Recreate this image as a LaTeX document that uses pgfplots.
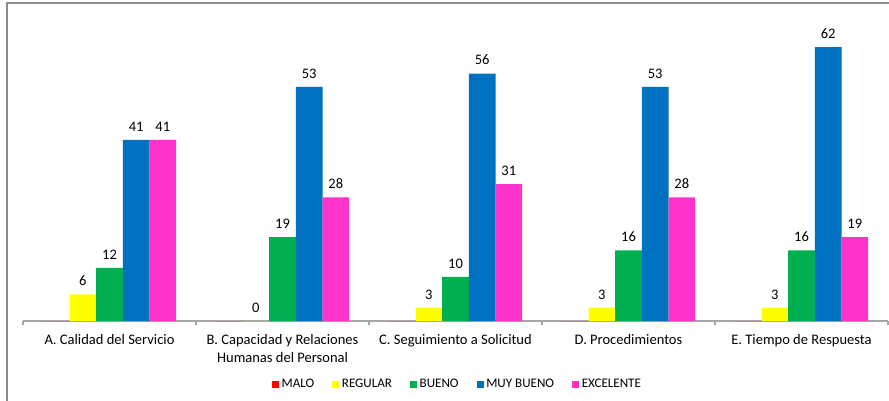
\documentclass[border=0pt]{standalone}
\usepackage{pgfplots}
\pgfplotsset{compat=1.18}
\usepackage{fontspec}
\setmainfont{Carlito}
\definecolor{cMalo}{HTML}{FF0000}
\definecolor{cReg}{HTML}{FFFF00}
\definecolor{cBue}{HTML}{00B050}
\definecolor{cMuy}{HTML}{0070C0}
\definecolor{cExc}{HTML}{FF33CC}
\definecolor{axgray}{HTML}{A6A6A6}
\definecolor{framegray}{HTML}{8C8C8C}
\begin{document}
\begin{tikzpicture}
\useasboundingbox (-17.25pt,-59.25pt) rectangle (649.5pt,240.75pt);
\draw[color=framegray, line width=1.1pt] (-12pt,-70pt) -- (-12pt,238.5pt) -- (670pt,238.5pt);
\begin{axis}[
 at={(0pt,0pt)}, anchor=south west,
 scale only axis, width=648.75pt, height=232pt,
 ymin=0, ymax=70, xmin=-0.5, xmax=4.5,
 ybar=0pt, bar width=20pt,
 axis y line=none, axis x line*=bottom,
 x axis line style={axgray, line width=0.9pt, -},
 xtick={0,...,4},
 xticklabels={A. Calidad del Servicio, {B. Capacidad y Relaciones\\Humanas del Personal}, C. Seguimiento a Solicitud, D. Procedimientos, E. Tiempo de Respuesta},
 xticklabel style={align=center, font=\fontsize{10.9}{13.5}\selectfont, inner sep=0pt, anchor=north, yshift=-10pt},
 major tick length=0pt,
 minor xtick={-0.5,0.5,...,4.5},
 minor tick length=3pt, tick align=outside,
 minor tick style={axgray, line width=0.9pt},
 /pgf/number format/assume math mode=true,
 nodes near coords,
 every node near coord/.append style={font=\fontsize{10.9}{13}\selectfont, anchor=base, inner sep=0pt, yshift=6.5pt, text=black},
 legend columns=5,
 legend style={draw=none, at={(0.5023,-0.205)}, anchor=center, font=\fontsize{9.8}{11}\selectfont,
   nodes={inner sep=1.5pt},
   /tikz/every odd column/.append style={column sep=0.5pt},
   /tikz/every even column/.append style={column sep=12pt}},
 legend image code/.code={\fill[#1] (0pt,-2.7pt) rectangle (5.25pt,2.7pt);},
]
\addplot[fill=cMalo, draw=none, nodes near coords={}] coordinates {(0,0) (1,0) (2,0) (3,0) (4,0)};
\addplot[fill=cReg, draw=none] coordinates {(0,6) (1,0) (2,3) (3,3) (4,3)};
\addplot[fill=cBue, draw=none] coordinates {(0,12) (1,19) (2,10) (3,16) (4,16)};
\addplot[fill=cMuy, draw=none] coordinates {(0,41) (1,53) (2,56) (3,53) (4,62)};
\addplot[fill=cExc, draw=none] coordinates {(0,41) (1,28) (2,31) (3,28) (4,19)};
\legend{MALO, REGULAR, BUENO, MUY BUENO, EXCELENTE}
\end{axis}
\end{tikzpicture}
\end{document}
